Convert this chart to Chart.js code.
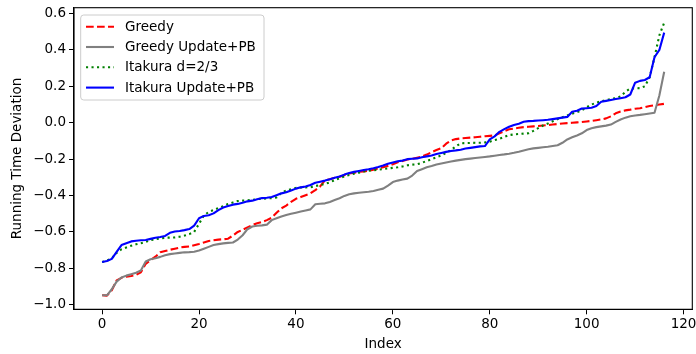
<!DOCTYPE html>
<html>
<head>
<meta charset="utf-8">
<script src="https://cdn.jsdelivr.net/npm/chart.js@4.4.1/dist/chart.umd.min.js"></script>
<style>
html,body{margin:0;padding:0;background:#fff;}
#wrap{width:696px;height:354px;position:relative;}
</style>
</head>
<body>
<div id="wrap"><canvas id="c" width="696" height="354"></canvas></div>
<script>
const seriesNames = ["Greedy", "Greedy Update+PB", "Itakura d=2/3", "Itakura Update+PB"];
const xTicks = [0, 20, 40, 60, 80, 100, 120];
const yTicks = [-1.0, -0.8, -0.6, -0.4, -0.2, 0.0, 0.2, 0.4, 0.6];

const greedy = [
-0.948,-0.950,-0.920,-0.866,-0.852,-0.846,-0.842,-0.836,-0.822,-0.775,
-0.755,-0.736,-0.712,-0.705,-0.698,-0.692,-0.686,-0.682,-0.680,-0.673,
-0.666,-0.658,-0.650,-0.646,-0.642,-0.640,-0.637,-0.620,-0.600,-0.588,
-0.575,-0.562,-0.552,-0.545,-0.535,-0.522,-0.495,-0.470,-0.455,-0.435,
-0.418,-0.408,-0.398,-0.388,-0.370,-0.350,-0.316,-0.310,-0.302,-0.297,
-0.288,-0.279,-0.275,-0.270,-0.267,-0.264,-0.258,-0.250,-0.244,-0.237,
-0.228,-0.217,-0.210,-0.202,-0.198,-0.192,-0.186,-0.175,-0.162,-0.150,
-0.140,-0.115,-0.098,-0.090,-0.086,-0.084,-0.082,-0.080,-0.077,-0.074,
-0.072,-0.070,-0.058,-0.046,-0.036,-0.032,-0.028,-0.024,-0.022,-0.020,
-0.018,-0.015,-0.013,-0.010,-0.007,-0.004,-0.002,0.000,0.002,0.004,
0.007,0.010,0.014,0.018,0.024,0.035,0.052,0.062,0.068,0.072,
0.077,0.080,0.085,0.092,0.096,0.100,0.104];

const greedyUpdPB = [
-0.948,-0.948,-0.915,-0.873,-0.850,-0.840,-0.832,-0.824,-0.812,-0.762,
-0.750,-0.744,-0.737,-0.728,-0.722,-0.718,-0.715,-0.712,-0.711,-0.709,
-0.702,-0.692,-0.682,-0.672,-0.667,-0.663,-0.660,-0.658,-0.642,-0.618,
-0.585,-0.570,-0.566,-0.564,-0.560,-0.535,-0.525,-0.515,-0.507,-0.500,
-0.494,-0.488,-0.482,-0.476,-0.448,-0.445,-0.443,-0.435,-0.425,-0.415,
-0.402,-0.393,-0.388,-0.385,-0.382,-0.379,-0.375,-0.368,-0.362,-0.345,
-0.326,-0.318,-0.312,-0.307,-0.290,-0.265,-0.255,-0.245,-0.238,-0.230,
-0.224,-0.218,-0.213,-0.208,-0.204,-0.200,-0.197,-0.194,-0.191,-0.188,
-0.185,-0.181,-0.177,-0.174,-0.170,-0.165,-0.159,-0.152,-0.146,-0.141,
-0.138,-0.135,-0.132,-0.128,-0.124,-0.110,-0.092,-0.080,-0.070,-0.058,
-0.040,-0.030,-0.024,-0.020,-0.016,-0.010,0.005,0.018,0.028,0.036,
0.040,0.043,0.047,0.051,0.055,0.150,0.280];

const itakura = [
-0.765,-0.758,-0.745,-0.715,-0.695,-0.685,-0.676,-0.668,-0.662,-0.655,
-0.645,-0.640,-0.636,-0.632,-0.631,-0.630,-0.626,-0.620,-0.612,-0.600,
-0.555,-0.510,-0.490,-0.480,-0.468,-0.458,-0.446,-0.438,-0.430,-0.428,
-0.426,-0.424,-0.420,-0.418,-0.416,-0.414,-0.410,-0.385,-0.372,-0.365,
-0.358,-0.356,-0.355,-0.354,-0.348,-0.342,-0.336,-0.328,-0.315,-0.305,
-0.295,-0.287,-0.280,-0.274,-0.268,-0.264,-0.261,-0.258,-0.254,-0.251,
-0.248,-0.245,-0.240,-0.234,-0.230,-0.228,-0.220,-0.210,-0.200,-0.190,
-0.180,-0.165,-0.150,-0.130,-0.113,-0.112,-0.111,-0.110,-0.110,-0.108,
-0.104,-0.095,-0.088,-0.078,-0.068,-0.064,-0.062,-0.060,-0.058,-0.045,
-0.030,-0.015,-0.004,0.008,0.020,0.030,0.040,0.050,0.058,0.068,
0.085,0.100,0.110,0.118,0.125,0.130,0.135,0.145,0.170,0.188,
0.189,0.190,0.200,0.250,0.360,0.480,0.550];

const itakuraUpdPB = [
-0.765,-0.760,-0.748,-0.710,-0.672,-0.662,-0.652,-0.648,-0.646,-0.644,
-0.638,-0.632,-0.628,-0.622,-0.605,-0.598,-0.595,-0.590,-0.584,-0.565,
-0.525,-0.512,-0.508,-0.498,-0.480,-0.466,-0.458,-0.450,-0.446,-0.440,
-0.432,-0.428,-0.420,-0.414,-0.412,-0.408,-0.398,-0.388,-0.382,-0.372,
-0.362,-0.355,-0.350,-0.342,-0.330,-0.324,-0.318,-0.310,-0.302,-0.295,
-0.285,-0.276,-0.270,-0.265,-0.260,-0.256,-0.250,-0.243,-0.235,-0.225,
-0.218,-0.212,-0.208,-0.200,-0.198,-0.196,-0.190,-0.185,-0.180,-0.172,
-0.166,-0.160,-0.155,-0.152,-0.148,-0.142,-0.138,-0.134,-0.130,-0.128,
-0.092,-0.075,-0.050,-0.035,-0.022,-0.012,-0.005,0.005,0.009,0.010,
0.012,0.014,0.016,0.020,0.024,0.028,0.032,0.060,0.066,0.078,
0.080,0.082,0.092,0.115,0.120,0.125,0.130,0.135,0.140,0.155,
0.220,0.230,0.235,0.250,0.360,0.400,0.495];

const seriesValues = [greedy, greedyUpdPB, itakura, itakuraUpdPB];
const colors = ["#ff0000", "#808080", "#008000", "#0000ff"];
const dashes = [[7.7, 3.3], [], [2.1, 3.4], []];

const FONT = "'DejaVu Sans', sans-serif";
const FS = 13.5;
const fmt = v => { const s = Math.abs(v).toFixed(1); return (v < -1e-9 ? "\u2212" : "") + s; };

const datasets = seriesValues.map((vals, i) => ({
  label: seriesNames[i],
  data: vals.map((y, x) => ({x: x, y: y})),
  borderColor: colors[i],
  backgroundColor: colors[i],
  borderWidth: 2.1,
  borderDash: dashes[i],
  borderCapStyle: 'butt',
  borderJoinStyle: 'round',
  pointRadius: 0,
  tension: 0,
  fill: false,
  order: 3 - i
}));

const frameLegend = {
  id: 'frameLegend',
  afterDatasetsDraw(chart) {
    const ctx = chart.ctx, a = chart.chartArea;
    ctx.save();
    ctx.strokeStyle = '#000';
    ctx.lineWidth = 1.1;
    ctx.strokeRect(a.left, a.top, a.right - a.left, a.bottom - a.top);
    const lx = a.left + 6.7, ly = a.top + 7.3, lw = 183.3, lh = 85;
    ctx.beginPath();
    const r = 3;
    ctx.moveTo(lx + r, ly);
    ctx.arcTo(lx + lw, ly, lx + lw, ly + lh, r);
    ctx.arcTo(lx + lw, ly + lh, lx, ly + lh, r);
    ctx.arcTo(lx, ly + lh, lx, ly, r);
    ctx.arcTo(lx, ly, lx + lw, ly, r);
    ctx.closePath();
    ctx.fillStyle = 'rgba(255,255,255,0.8)';
    ctx.fill();
    ctx.strokeStyle = '#cccccc';
    ctx.lineWidth = 1;
    ctx.stroke();
    chart.data.datasets.forEach((d, i) => {
      const y = ly + 11.7 + 20.3 * i;
      ctx.beginPath();
      ctx.setLineDash(d.borderDash || []);
      ctx.strokeStyle = d.borderColor;
      ctx.lineWidth = d.borderWidth;
      ctx.moveTo(lx + 5.3, y);
      ctx.lineTo(lx + 33.3, y);
      ctx.stroke();
      ctx.setLineDash([]);
      ctx.fillStyle = '#000';
      ctx.font = FS + "px " + FONT;
      ctx.textBaseline = 'middle';
      ctx.textAlign = 'left';
      ctx.fillText(d.label, lx + 44.3, y + 0.5);
    });
    ctx.restore();
  }
};

new Chart(document.getElementById('c'), {
  type: 'line',
  data: { datasets: datasets },
  options: {
    responsive: false,
    animation: false,
    devicePixelRatio: 1,
    layout: { padding: { left: 0, top: 7.7, right: 3.7, bottom: 0 } },
    plugins: { legend: { display: false }, tooltip: { enabled: false } },
    scales: {
      x: {
        type: 'linear',
        min: -5.8, max: 121.8,
        afterBuildTicks: s => { s.ticks = xTicks.map(v => ({value: v})); },
        afterFit: s => { s.height = 44.7; s.paddingLeft = 0; s.paddingRight = 0; },
        ticks: { color: '#000', font: { family: FONT, size: FS }, padding: 2, maxRotation: 0, autoSkip: false,
                 callback: v => String(v) },
        grid: { drawOnChartArea: false, drawTicks: true, tickLength: 5, color: '#000', tickWidth: 1 },
        border: { display: true, color: '#000', width: 1.1 },
        title: { display: true, text: 'Index', color: '#000', font: { family: FONT, size: FS }, padding: { top: 0, bottom: 1 } }
      },
      y: {
        type: 'linear',
        min: -1.025, max: 0.632,
        afterBuildTicks: s => { s.ticks = yTicks.map(v => ({value: v})); },
        afterFit: s => { s.width = 74; s.paddingTop = 0; s.paddingBottom = 0; },
        ticks: { color: '#000', font: { family: FONT, size: FS }, padding: 3, autoSkip: false, callback: v => fmt(v) },
        grid: { drawOnChartArea: false, drawTicks: true, tickLength: 5, color: '#000', tickWidth: 1 },
        border: { display: true, color: '#000', width: 1.1 },
        title: { display: true, text: 'Running Time Deviation', color: '#000', font: { family: FONT, size: FS }, padding: { top: 9, bottom: 0 } }
      }
    }
  },
  plugins: [frameLegend]
});
</script>
</body>
</html>
